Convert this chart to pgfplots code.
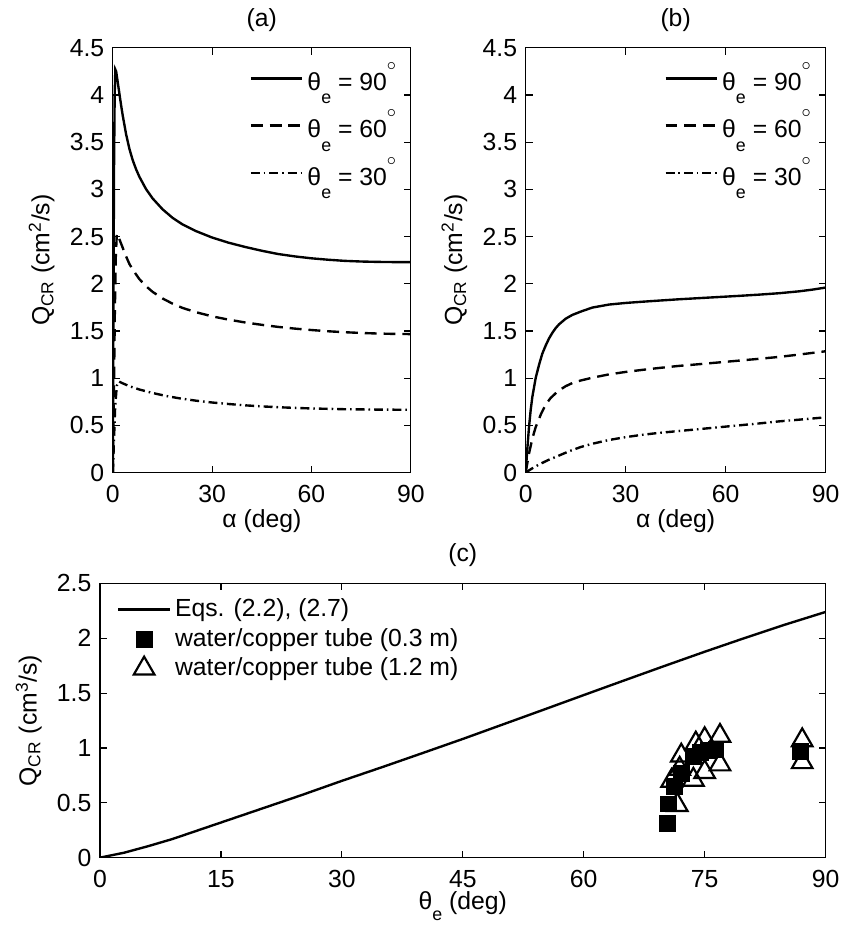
\documentclass[border=0pt]{standalone}
\usepackage{fontspec}
\setmainfont{Liberation Sans}
\usepackage{pgfplots}
\pgfplotsset{compat=1.18}
\usepackage{pgfplotstable}

\pgfplotstableread{
x y
0 0
0.15 1.5
0.35 3.2
0.55 4.0
0.75 4.27
1.0 4.25
1.5 4.13
2 4.01
2.5 3.89
3 3.78
4 3.585
5 3.43
6 3.31
7 3.215
8 3.135
10 3.005
12 2.905
15 2.79
18 2.70
21 2.63
25 2.56
30 2.49
35 2.435
40 2.39
45 2.35
50 2.315
55 2.29
60 2.27
65 2.255
70 2.243
75 2.236
80 2.232
85 2.23
90 2.23
}\aninety
\pgfplotstableread{
x y
0 0
0.3 0.8
0.6 1.7
0.9 2.3
1.2 2.53
1.5 2.51
2 2.47
3 2.38
4 2.29
5 2.21
6 2.15
8 2.05
10 1.975
12 1.915
15 1.845
18 1.79
21 1.745
25 1.70
30 1.655
35 1.62
40 1.59
45 1.565
50 1.543
55 1.525
60 1.51
65 1.497
70 1.487
75 1.479
80 1.473
85 1.469
90 1.467
}\asixty
\pgfplotstableread{
x y
0 0
0.3 0.3
0.7 0.7
1.2 0.92
1.8 0.965
3 0.945
5 0.915
8 0.88
12 0.843
16 0.812
20 0.787
25 0.762
30 0.742
35 0.726
40 0.712
45 0.701
50 0.692
55 0.685
60 0.679
70 0.671
80 0.667
90 0.665
}\athirty
\pgfplotstableread{
x y
0 0
0.5 0.25
1 0.48
1.5 0.66
2 0.80
3 1.00
4 1.14
5 1.26
6 1.345
7 1.42
8 1.48
9 1.53
10 1.57
12 1.63
14 1.67
16.5 1.705
20 1.748
25 1.78
30 1.797
35 1.81
40 1.822
46 1.836
52 1.848
58 1.86
64 1.872
70 1.885
76 1.90
82 1.92
86 1.938
90 1.96
}\bninety
\pgfplotstableread{
x y
0 0
1 0.2
2 0.36
3 0.48
4.6 0.62
6 0.72
7.5 0.79
9.6 0.86
12 0.915
14 0.948
16.5 0.975
20 1.005
25 1.04
30 1.066
35 1.088
40 1.108
46 1.13
52 1.148
58 1.167
64 1.186
70 1.205
76 1.225
82 1.25
90 1.285
}\bsixty
\pgfplotstableread{
x y
0 0
2 0.045
4 0.085
6.6 0.13
10 0.18
13 0.225
16.5 0.27
20 0.305
25 0.345
30 0.375
35 0.40
40 0.42
46 0.44
52 0.46
58 0.48
64 0.50
70 0.52
76 0.542
82 0.56
90 0.585
}\bthirty
\pgfplotstableread{
x y
0 0
3 0.045
6 0.105
9 0.17
12 0.245
15 0.32
20 0.445
25 0.57
30 0.70
35 0.825
40 0.953
45 1.082
50 1.215
55 1.348
60 1.482
65 1.615
70 1.747
75 1.877
80 2.003
85 2.125
90 2.24
}\cmodel
\pgfplotstableread{
x y
70.4 0.31
70.5 0.49
71.2 0.65
72.1 0.77
73.6 0.92
74.5 0.96
75.4 0.98
76.4 0.99
86.9 0.97
}\csquare
\pgfplotstableread{
x y
71.6 0.48
70.9 0.70
71.9 0.81
72.1 0.93
73.6 0.71
73.9 1.04
75.0 1.08
75.0 0.78
76.9 1.11
76.9 0.85
87.1 1.07
87.1 0.87
}\ctri

\newcommand{\fnt}{\fontsize{12.5}{14}\selectfont}
\newcommand{\sfnt}{\fontsize{9}{10}\selectfont}
\newcommand{\thet}[1]{θ\raisebox{-0.55em}{\sfnt e} = #1\raisebox{0.8em}{\sfnt$\circ$}}

\pgfplotsset{
  myax/.style={
    scale only axis,
    tick align=inside,
    major tick length=3.5pt,
    axis line style={line width=0.6pt},
    every tick/.style={line width=0.6pt},
    /pgf/number format/assume math mode=true,
    tick label style={font=\fnt},
    xticklabel style={yshift=-2pt},
    label style={font=\fnt},
    every axis y label/.style={at={(rel axis cs:0,0.5)}, rotate=90, anchor=center, yshift=36pt},
    every axis x label/.style={at={(rel axis cs:0.5,0)}, anchor=center, yshift=-24.5pt},
    title style={font=\fnt, yshift=-2pt},
    legend style={draw=none, fill=none, font=\fnt},
    legend cell align=left,
    legend image code/.code={\draw[mark repeat=2,mark phase=2,#1] plot coordinates {(0pt,0pt) (13pt,0pt) (26pt,0pt)};},
  },
  solidc/.style={black, line width=1.2pt},
  dashc/.style={black, line width=1.2pt, dash pattern=on 6pt off 3.5pt},
  dotc/.style={black, line width=1.2pt, dash pattern=on 4.5pt off 2pt on 0.8pt off 2pt},
}

\begin{document}
\fnt
\begin{tikzpicture}
\path (0,0) rectangle (425.5pt,-464.5pt);
% panel a
\begin{axis}[myax,
  at={(57pt,-20pt)}, anchor=north west,
  width=150.5pt, height=214.5pt,
  xmin=0, xmax=90, ymin=0, ymax=4.5,
  xtick={0,30,60,90}, ytick={0,0.5,...,4.5},
  xlabel={α (deg)}, ylabel={Q\textsubscript{CR} (cm\textsuperscript{2}/s)},
  title={(a)},
  legend style={at={(0.985,0.985)}, anchor=north east, row sep=4pt},
]
\addplot[solidc] table {\aninety};
\addlegendentry{\thet{90}}
\addplot[dashc] table {\asixty};
\addlegendentry{\thet{60}}
\addplot[dotc] table {\athirty};
\addlegendentry{\thet{30}}
\end{axis}
% panel b
\begin{axis}[myax,
  at={(265.5pt,-20pt)}, anchor=north west,
  width=151.5pt, height=214.5pt,
  xmin=0, xmax=90, ymin=0, ymax=4.5,
  xtick={0,30,60,90}, ytick={0,0.5,...,4.5},
  xlabel={α (deg)}, ylabel={Q\textsubscript{CR} (cm\textsuperscript{2}/s)},
  title={(b)},
  legend style={at={(0.985,0.985)}, anchor=north east, row sep=4pt},
]
\addplot[solidc] table {\bninety};
\addlegendentry{\thet{90}}
\addplot[dashc] table {\bsixty};
\addlegendentry{\thet{60}}
\addplot[dotc] table {\bthirty};
\addlegendentry{\thet{30}}
\end{axis}
% panel c
\begin{axis}[myax,
  at={(50.5pt,-290.5pt)}, anchor=north west,
  width=366.5pt, height=138.5pt,
  xmin=0, xmax=90, ymin=0, ymax=2.5,
  xtick={0,15,...,90}, ytick={0,0.5,...,2.5},
  xlabel={θ\raisebox{-0.45em}{\sfnt e} (deg)}, ylabel={Q\textsubscript{CR} (cm\textsuperscript{3}/s)},
  title={(c)},
  legend style={at={(0.015,0.975)}, anchor=north west, row sep=0pt},
]
\addplot[solidc] table {\cmodel};
\addlegendentry{Eqs. (2.2), (2.7)}
\addplot[only marks, mark=square*, mark size=4pt, mark options={fill=black, draw=black, line width=0.4pt}] table {\csquare};
\addlegendentry{water/copper tube (0.3 m)}
\addplot[only marks, mark=triangle, mark size=6pt, mark options={draw=black, line width=1.1pt}] table {\ctri};
\addlegendentry{water/copper tube (1.2 m)}
\end{axis}
\end{tikzpicture}
\end{document}
